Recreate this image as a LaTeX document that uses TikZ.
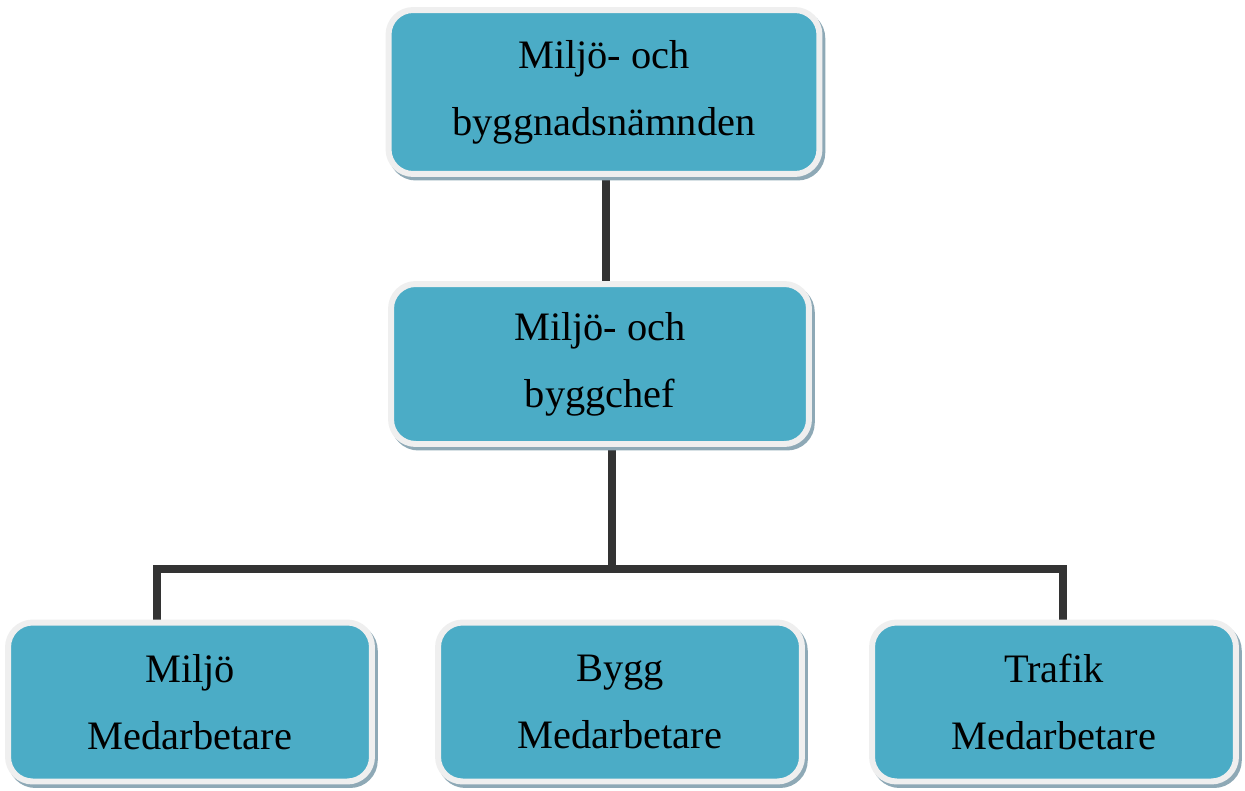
\documentclass[tikz,border=0pt]{standalone}
\usepackage{fontspec}
\setmainfont{Liberation Serif}
\usetikzlibrary{positioning,shadows,backgrounds}
\definecolor{boxfill}{HTML}{4BACC6}
\definecolor{boxrim}{HTML}{EFEFEF}
\definecolor{boxshade}{HTML}{8EA9B6}
\definecolor{linkgray}{HTML}{333333}
\tikzset{
	orgbox/.style={draw=boxrim,fill=boxfill,line width=3.4pt,rounded corners=14pt,align=center,
		font=\fontsize{23}{38}\selectfont,
		drop shadow={shadow xshift=1.6pt,shadow yshift=-2pt,fill=boxshade,draw=boxshade,line width=3.4pt,opacity=1}},
	link/.style={draw=linkgray,line width=4.6pt}
}
\begin{document}
\begin{tikzpicture}[x=0.02cm,y=-0.02cm]
			\useasboundingbox (0,0) rectangle (1245,791);

			\node[orgbox,minimum width=8.62cm,minimum height=3.28cm] (nmd) at (604,92) {Miljö- och\\byggnadsnämnden};

			\node[orgbox,minimum width=8.36cm,minimum height=3.2cm] (chef) at (600,364) {Miljö- och\\byggchef};

			\node[orgbox,minimum width=7.28cm,minimum height=3.18cm] (miljo) at (190,702) {Miljö\\Medarbetare};
			\node[orgbox,minimum width=7.28cm,minimum height=3.18cm] (bygg) at (620,702) {Bygg\\Medarbetare};
			\node[orgbox,minimum width=7.28cm,minimum height=3.18cm] (trafik) at (1054,702) {Trafik\\Medarbetare};

			\coordinate (bar) at (612,569);
			\coordinate (barL) at (157,569);
			\coordinate (barR) at (1063,569);

			\begin{scope}[on background layer]
			\draw[link] (nmd.south -| 606,0) -- (chef.north -| 606,0);
			\draw[link] (chef.south -| bar) -- (bar);
			\draw[link] (barL |- miljo.north) -- (barL) -- (barR) -- (barR |- trafik.north);
			\end{scope}
		\end{tikzpicture}
\end{document}
